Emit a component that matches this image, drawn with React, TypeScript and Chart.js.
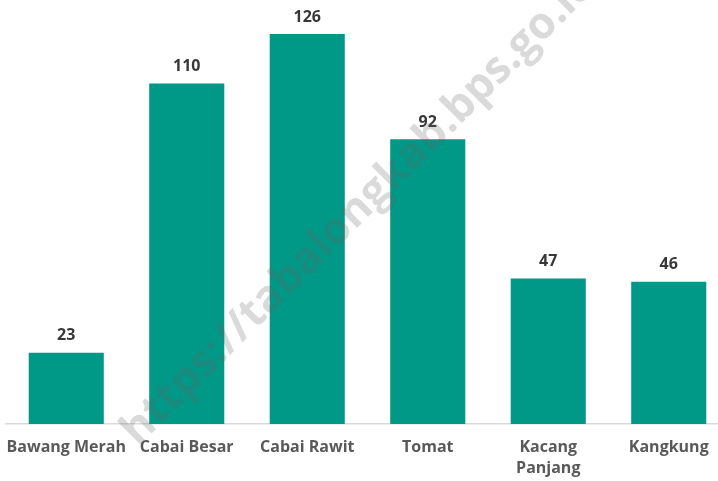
import React, { useEffect, useRef } from "react";
import { Chart, registerables } from "chart.js";

Chart.register(...registerables);

const categories: (string | string[])[] = [
  "Bawang Merah",
  "Cabai Besar",
  "Cabai Rawit",
  "Tomat",
  ["Kacang", "Panjang"],
  "Kangkung",
];
const values: number[] = [23, 110, 126, 92, 47, 46];
const watermarkText = "https://tabalongkab.bps.go.id";

const BAR_COLOR = "#009887";
const FONT = "'Open Sans', 'DejaVu Sans', sans-serif";

const valueLabelPlugin = {
  id: "valueLabels",
  afterDatasetsDraw(chart: any) {
    const ctx = chart.ctx;
    const meta = chart.getDatasetMeta(0);
    ctx.save();
    ctx.font = `bold 16px ${FONT}`;
    ctx.fillStyle = "#383838";
    ctx.textAlign = "center";
    ctx.textBaseline = "middle";
    meta.data.forEach((bar: any, i: number) => {
      ctx.fillText(String(values[i]), bar.x, bar.y - 17);
    });
    ctx.restore();
  },
};

const watermarkPlugin = {
  id: "watermark",
  afterDraw(chart: any) {
    const ctx = chart.ctx;
    ctx.save();
    ctx.translate(138, 447);
    ctx.rotate(-Math.PI / 4);
    ctx.font = `bold 44px ${FONT}`;
    ctx.fillStyle = "rgba(100,100,100,0.24)";
    ctx.textAlign = "left";
    ctx.textBaseline = "alphabetic";
    ctx.fillText(watermarkText, 0, 0);
    ctx.restore();
  },
};

export default function App() {
  const ref = useRef<HTMLCanvasElement | null>(null);
  useEffect(() => {
    if (!ref.current) return;
    const chart = new Chart(ref.current, {
      type: "bar",
      data: {
        labels: categories as any,
        datasets: [
          {
            data: values,
            backgroundColor: BAR_COLOR,
            borderWidth: 0,
            categoryPercentage: 1,
            barPercentage: 0.623,
          },
        ],
      },
      options: {
        responsive: false,
        animation: false,
        layout: { padding: { left: 6, right: 6, top: 0, bottom: 0 } },
        plugins: {
          legend: { display: false },
          tooltip: { enabled: false },
        },
        scales: {
          x: {
            grid: { display: false, drawTicks: false },
            border: { display: true, color: "#d9d9d9", width: 1.5 },
            ticks: {
              color: "#595959",
              font: { family: FONT, size: 16, weight: "bold", lineHeight: 1.3 },
              padding: 13,
              maxRotation: 0,
              autoSkip: false,
            },
            afterFit(scale: any) {
              scale.height = 57;
              scale.paddingLeft = 0;
              scale.paddingRight = 0;
            },
          },
          y: {
            display: false,
            min: 0,
            max: 137,
          },
        },
      },
      plugins: [valueLabelPlugin, watermarkPlugin],
    });
    return () => chart.destroy();
  }, []);

  return (
    <div
      style={{
        position: "absolute",
        top: 0,
        left: 0,
        width: 718,
        height: 481,
        overflow: "hidden",
        background: "#ffffff",
      }}
    >
      <canvas ref={ref} width={735} height={481} style={{ display: "block" }} />
    </div>
  );
}
